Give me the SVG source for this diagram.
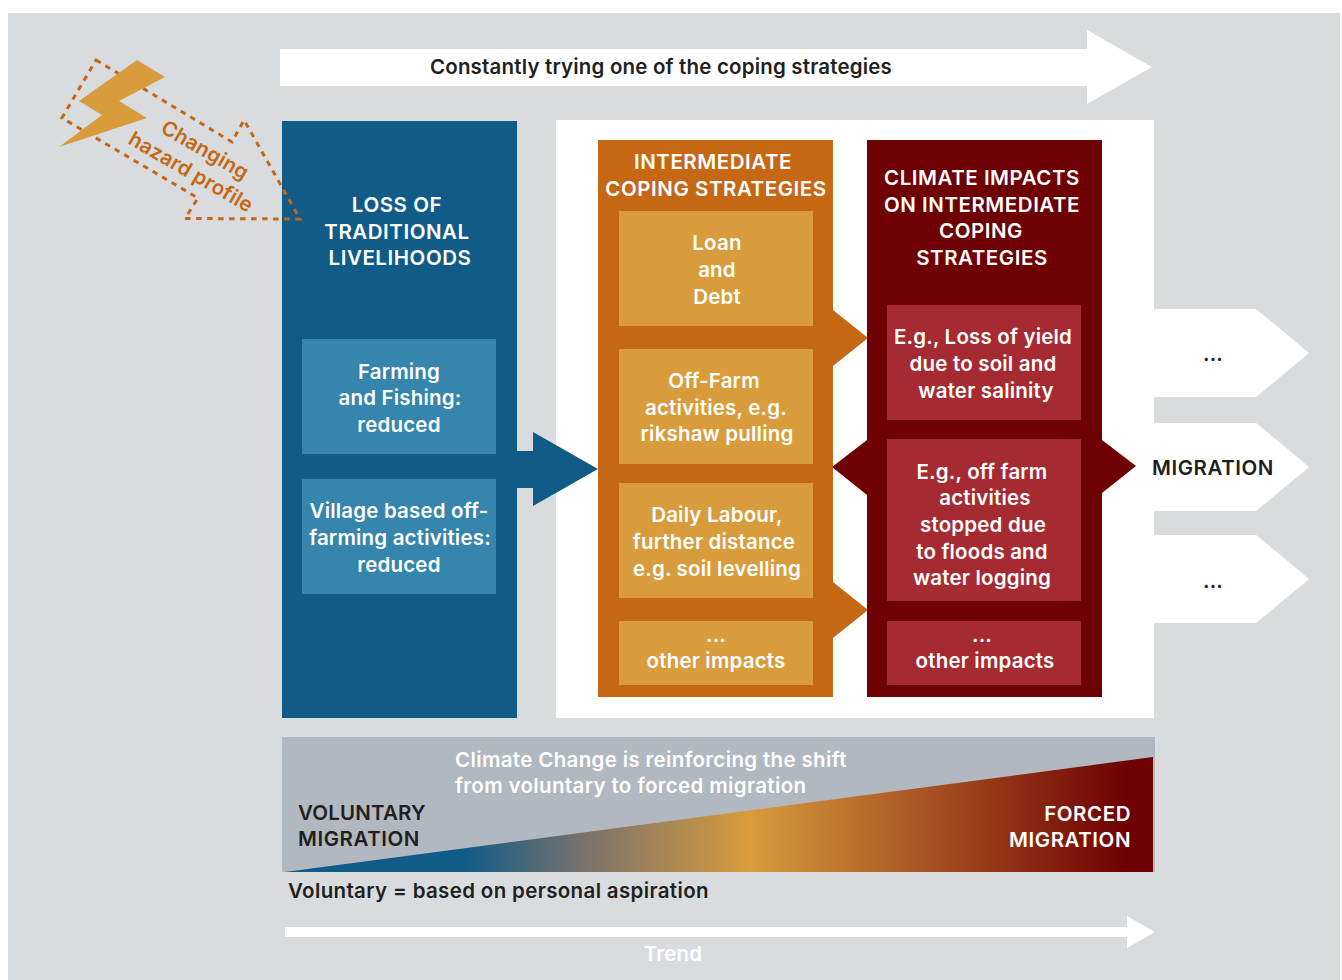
<svg xmlns="http://www.w3.org/2000/svg" width="1342" height="980" viewBox="0 0 1342 980">
<style>
text{font-family:"Inter","Liberation Sans",sans-serif;font-size:20.5px;font-weight:600;letter-spacing:.18px;fill:#fff;text-anchor:middle}
.u{letter-spacing:.55px}
.s{letter-spacing:.35px}
.d{fill:#231f20}
.l{text-anchor:start}
.r{text-anchor:end}
.wh{fill:#fff}
.or{fill:#c66714}
.lo{fill:#d99c3c}
.dr{fill:#6e0003}
.re{fill:#a62a32}
.bl{fill:#105b88}
.lb{fill:#3585ad}
</style>
<defs>
<linearGradient id="g" x1="0" y1="0" x2="1" y2="0">
<stop offset="0.205" stop-color="#105b88"/>
<stop offset="0.35" stop-color="#7c736a"/>
<stop offset="0.536" stop-color="#d99c3c"/>
<stop offset="0.97" stop-color="#6e0003"/>
</linearGradient>
</defs>
<rect width="1342" height="980" fill="#fff"/>
<rect x="8" y="13" width="1332" height="967" fill="#d9dcdf"/>
<g id="top-arrow">
<polygon class="wh" points="280,49 1087,49 1087,30 1152,67 1087,104 1087,86 280,86"/>
<text x="661" y="74" class="d">Constantly trying one of the coping strategies</text>
</g>
<g id="white-panel"><rect class="wh" x="556" y="120" width="598" height="598"/></g>
<g id="connectors">
<polygon class="bl" points="517,451 533,451 533,432 598,469 533,506 533,488 517,488"/>
<polygon class="or" points="833,310 868,338 833,366"/>
<polygon class="or" points="833,582 868,610 833,638"/>
<polygon class="dr" points="867,440 832,467 867,495"/>
<polygon class="dr" points="1102,440 1136,466 1102,493"/>
</g>
<g id="loss">
<rect class="bl" x="282" y="121" width="235" height="597"/>
<text x="397" y="212" class="u">LOSS OF</text>
<text x="397" y="239" class="u">TRADITIONAL</text>
<text x="400" y="265" class="u">LIVELIHOODS</text>
</g>
<g id="farming">
<rect class="lb" x="302" y="339" width="194" height="115"/>
<text x="399" y="379">Farming</text>
<text x="400" y="405">and Fishing:</text>
<text x="399" y="432">reduced</text>
</g>
<g id="village">
<rect class="lb" x="302" y="479" width="194" height="115"/>
<text x="399" y="518">Village based off-</text>
<text x="400" y="545">farming activities:</text>
<text x="399" y="572">reduced</text>
</g>
<g id="intermediate">
<rect class="or" x="598" y="140" width="235" height="557"/>
<text x="713" y="169" class="u">INTERMEDIATE</text>
<text x="716" y="196" class="u">COPING STRATEGIES</text>
</g>
<g id="loan">
<rect class="lo" x="619" y="211" width="194" height="115"/>
<text x="717" y="250">Loan</text>
<text x="717" y="277">and</text>
<text x="717" y="304">Debt</text>
</g>
<g id="offfarm">
<rect class="lo" x="619" y="349" width="194" height="115"/>
<text x="714" y="388">Off-Farm</text>
<text x="716" y="415">activities, e.g.</text>
<text x="717" y="441">rikshaw pulling</text>
</g>
<g id="daily">
<rect class="lo" x="619" y="483" width="194" height="115"/>
<text x="717" y="522">Daily Labour,</text>
<text x="714" y="549">further distance</text>
<text x="717" y="576">e.g. soil levelling</text>
</g>
<g id="other-orange">
<rect class="lo" x="619" y="621" width="194" height="64"/>
<text x="716" y="642">...</text>
<text x="716" y="668">other impacts</text>
</g>
<g id="impacts">
<rect class="dr" x="867" y="140" width="235" height="557"/>
<text x="982" y="185" class="u">CLIMATE IMPACTS</text>
<text x="982" y="212" class="u">ON INTERMEDIATE</text>
<text x="981" y="238" class="u">COPING</text>
<text x="982" y="265" class="u">STRATEGIES</text>
</g>
<g id="yield">
<rect class="re" x="887" y="305" width="194" height="115"/>
<text x="983" y="344">E.g., Loss of yield</text>
<text x="983" y="371">due to soil and</text>
<text x="986" y="398">water salinity</text>
</g>
<g id="floods">
<rect class="re" x="887" y="439" width="194" height="162"/>
<text x="982" y="479">E.g., off farm</text>
<text x="985" y="505">activities</text>
<text x="983" y="532">stopped due</text>
<text x="982" y="559">to floods and</text>
<text x="982" y="585">water logging</text>
</g>
<g id="other-red">
<rect class="re" x="887" y="621" width="194" height="64"/>
<text x="982" y="642">...</text>
<text x="985" y="668">other impacts</text>
</g>
<g id="out1">
<polygon class="wh" points="1154,309 1256,309 1309,353 1256,397 1154,397"/>
<text x="1213" y="361" class="d">...</text>
</g>
<g id="out2">
<polygon class="wh" points="1154,423 1256,423 1309,467 1256,511 1154,511"/>
<text x="1213" y="475" class="d u">MIGRATION</text>
</g>
<g id="out3">
<polygon class="wh" points="1154,535 1256,535 1309,579 1256,623 1154,623"/>
<text x="1213" y="588" class="d">...</text>
</g>
<g id="shift">
<rect x="282" y="737" width="873" height="135" fill="#b1b8bf"/>
<polygon fill="url(#g)" points="285,872 1153,757 1153,872"/>
<text x="455" y="767" class="l s">Climate Change is reinforcing the shift</text>
<text x="455" y="793" class="l s">from voluntary to forced migration</text>
<text x="298" y="820" class="l d">VOLUNTARY</text>
<text x="298" y="846" class="l d u">MIGRATION</text>
<text x="1131" y="821" class="r u">FORCED</text>
<text x="1131" y="847" class="r u">MIGRATION</text>
<text x="288" y="898" class="l d s">Voluntary = based on personal aspiration</text>
</g>
<g id="trend">
<polygon class="wh" points="285,927 1127,927 1127,916 1155,932 1127,948 1127,937 285,937"/>
<text x="673" y="961">Trend</text>
</g>
<g id="hazard">
<polygon points="96,60 232,142 244,120 300,219 185,218.500 198,198 62,118" fill="none" stroke="#c66714" stroke-width="3" stroke-dasharray="5.500 5.500"/>
<polygon class="lo" points="137,60 165,77 119,101 147,118 59,147 102,115 79,101"/>
<text transform="translate(201.500 156) rotate(30)" class="or">Changing</text>
<text transform="translate(187.500 178) rotate(30)" class="or">hazard profile</text>
</g>
</svg>
